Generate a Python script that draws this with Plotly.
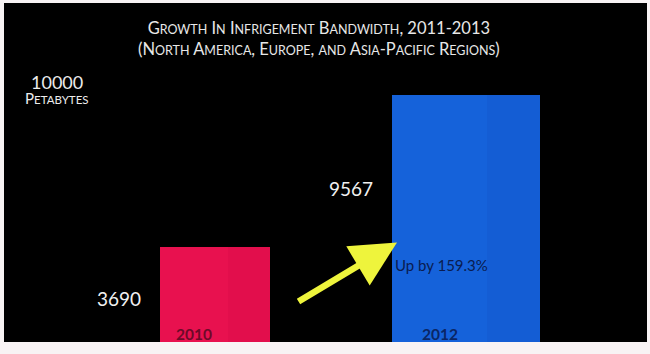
import plotly.graph_objects as go

years = ["2010", "2012"]
values = [3690, 9567]
value_labels = ["3690", "9567"]
front_colors = ["#e8114f", "#1562da"]
side_colors = ["#e20e4c", "#145dd4"]
year_text_colors = ["#6e0a28", "#0a2666"]
growth_label = "Up by 159.3%"
axis_label_value = 10000
title_lines = ["Growth In Infrigement Bandwidth, 2011-2013",
               "(North America, Europe, and Asia-Pacific Regions)"]

# layout positions (x axis runs in screen-like units across the plot)
front_x = [190, 435.5]
front_w = [68, 95]
side_x = [245, 509.5]
side_w = [42, 53]

fig = go.Figure()
fig.add_trace(go.Bar(x=side_x, y=values, width=side_w,
                     marker=dict(color=side_colors, line=dict(width=0)),
                     hoverinfo="skip", showlegend=False))
fig.add_trace(go.Bar(x=front_x, y=values, width=front_w,
                     marker=dict(color=front_colors, line=dict(width=0)),
                     hoverinfo="skip", showlegend=False))


def sc(text, small=12.5):
    out = []
    for word in text.split(" "):
        w = ""
        for ch in word:
            if ch.islower():
                w += "<span style='font-size:%spx'>%s</span>" % (small, ch.upper())
            else:
                w += ch
        out.append(w)
    return " ".join(out)


title = "<br>".join(sc(t, 12.5) for t in title_lines)

annotations = [
    dict(xref="paper", yref="paper", x=0.49, y=1 - (39 - 3) / 339, text=title,
         showarrow=False, font=dict(family="Lato", size=16.5, color="#e8e8e8"),
         xanchor="center", yanchor="middle"),
    dict(xref="x", yref="y", x=53, y=axis_label_value + 60, text=str(axis_label_value),
         showarrow=False, font=dict(family="Lato", size=18, color="#ececec"),
         xanchor="center", yanchor="middle"),
    dict(xref="x", yref="y", x=53, y=axis_label_value - 550, text=sc("Petabytes", 11.5),
         showarrow=False, font=dict(family="Lato", size=15, color="#ececec"),
         xanchor="center", yanchor="middle"),
]
label_y = [values[0] * 0.46, values[1] * 0.62]
for i in range(2):
    annotations.append(dict(xref="x", yref="y", x=front_x[i] - front_w[i] / 2 - 17, y=label_y[i],
                            text=value_labels[i], showarrow=False,
                            font=dict(family="Lato", size=19, color="#f0f0f0"),
                            xanchor="right", yanchor="middle"))
    annotations.append(dict(xref="x", yref="y", x=front_x[i], y=0, text="<b>%s</b>" % years[i],
                            showarrow=False, font=dict(family="Lato", size=15.5, color=year_text_colors[i]),
                            xanchor="center", yanchor="middle", yshift=8))
annotations.append(dict(xref="x", yref="y", x=front_x[1] - front_w[1] / 2 + 1, y=values[1] * 0.31,
                        text=growth_label, showarrow=False,
                        font=dict(family="Lato", size=15, color="#0a1c50"),
                        xanchor="left", yanchor="middle"))
annotations.append(dict(xref="x", yref="y", x=front_x[1] - front_w[1] / 2 + 5, y=values[1] * 0.403,
                        text="", showarrow=True, ax=-100, ay=60, arrowhead=2, arrowsize=1.4,
                        arrowwidth=6.5, arrowcolor="#eef43c", standoff=0))

fig.update_layout(
    width=650, height=354,
    margin=dict(l=4, r=3, t=3, b=12),
    paper_bgcolor="#f8f3f4",
    plot_bgcolor="#000000",
    barmode="overlay",
    bargap=0,
    xaxis=dict(range=[0, 643], visible=False, fixedrange=True),
    yaxis=dict(range=[0, 13130], visible=False, fixedrange=True),
    annotations=annotations,
)

fig.write_html("out.html")
